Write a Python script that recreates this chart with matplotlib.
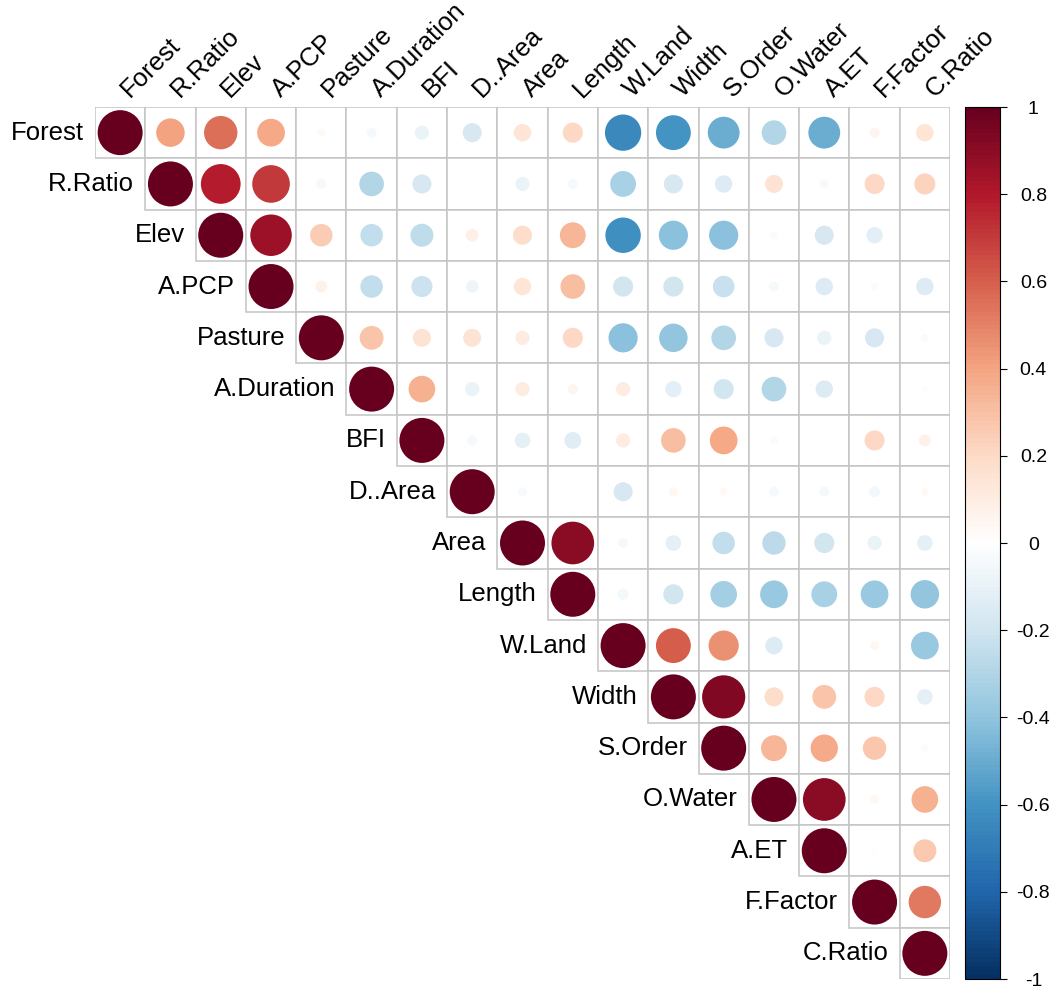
import numpy as np
import matplotlib
matplotlib.use("Agg")
import matplotlib.pyplot as plt
from matplotlib.colors import LinearSegmentedColormap, Normalize
from matplotlib.patches import Rectangle
from matplotlib.cm import ScalarMappable

plt.rcParams["font.family"] = ["Liberation Sans", "DejaVu Sans"]

labels = ["Forest", "R.Ratio", "Elev", "A.PCP", "Pasture", "A.Duration", "BFI",
          "D..Area", "Area", "Length", "W.Land", "Width", "S.Order", "O.Water",
          "A.ET", "F.Factor", "C.Ratio"]

# upper triangle of the correlation matrix, each row starts on the diagonal
forest = [1, 0.40, 0.55, 0.38, 0.03, -0.05, -0.10, -0.18, 0.15, 0.20, -0.65, -0.60, -0.50, -0.30, -0.50, 0.05, 0.15]
r_ratio = [1, 0.78, 0.70, -0.05, -0.30, -0.18, -0.01, -0.10, -0.05, -0.33, -0.18, -0.15, 0.16, -0.04, 0.20, 0.22]
elev = [1, 0.85, 0.25, -0.25, -0.26, 0.08, 0.18, 0.33, -0.62, -0.42, -0.42, -0.03, -0.18, -0.13, 0.005]
a_pcp = [1, 0.07, -0.25, -0.22, -0.08, 0.15, 0.30, -0.20, -0.20, -0.23, -0.05, -0.15, -0.03, -0.15]
pasture = [1, 0.28, 0.16, 0.16, 0.10, 0.20, -0.42, -0.40, -0.30, -0.18, -0.10, -0.18, 0.03]
a_duration = [1, 0.35, -0.10, 0.10, 0.05, 0.10, -0.13, -0.20, -0.30, -0.15, -0.01, -0.02]
bfi = [1, -0.05, -0.12, -0.14, 0.10, 0.30, 0.38, -0.03, -0.01, 0.20, 0.07]
d_area = [1, -0.04, -0.01, -0.18, 0.04, 0.03, -0.05, -0.05, -0.06, 0.03]
area = [1, 0.90, -0.05, -0.12, -0.25, -0.27, -0.20, -0.10, -0.12]
length = [1, -0.06, -0.20, -0.35, -0.38, -0.33, -0.38, -0.40]
w_land = [1, 0.60, 0.45, -0.15, -0.01, 0.04, -0.38]
width = [1, 0.92, 0.18, 0.28, 0.20, -0.12]
s_order = [1, 0.33, 0.37, 0.27, -0.03]
o_water = [1, 0.90, 0.04, 0.35]
a_et = [1, 0.01, 0.26]
f_factor = [1, 0.52]
c_ratio = [1]

rows = [forest, r_ratio, elev, a_pcp, pasture, a_duration, bfi, d_area, area,
        length, w_land, width, s_order, o_water, a_et, f_factor, c_ratio]
n = len(labels)

# RdBu ramp as used by corrplot
cmap = LinearSegmentedColormap.from_list(
    "rdbu", ["#053061", "#2166AC", "#4393C3", "#92C5DE", "#D1E5F0", "#FFFFFF",
             "#FDDBC7", "#F4A582", "#D6604D", "#B2182B", "#67001F"], N=200)
norm = Normalize(-1, 1)

W, H = 1058, 994
fig = plt.figure(figsize=(W / 100, H / 100), dpi=100)
ax = fig.add_axes([95 / W, 1 - 979 / H, 855 / W, 872 / H])
ax.set_xlim(0, n)
ax.set_ylim(n, 0)
ax.axis("off")

xs, ys, vals = [], [], []
for i, row in enumerate(rows):
    for k, v in enumerate(row):
        j = i + k
        ax.add_patch(Rectangle((j, i), 1, 1, facecolor="white",
                               edgecolor="#c4c4c4", linewidth=1.1, zorder=1))
        xs.append(j + 0.5)
        ys.append(i + 0.5)
        vals.append(v)
vals = np.array(vals)

full_d = 45 * 0.72  # diameter of a |r| = 1 circle, in points
ax.scatter(xs, ys, s=full_d ** 2 * np.abs(vals), c=vals, cmap=cmap, norm=norm,
           linewidths=0, zorder=2)

for i, lab in enumerate(labels):
    ax.text(i - 0.22, i + 0.5, lab, ha="right", va="center", fontsize=18.5,
            color="black")
    ax.text(i + 0.76, -0.1, lab, ha="left", va="bottom", rotation=45,
            rotation_mode="anchor", fontsize=18.5, color="black", clip_on=False)

cax = fig.add_axes([965 / W, 1 - 979 / H, 35 / W, 872 / H])
cb = fig.colorbar(ScalarMappable(norm=norm, cmap=cmap), cax=cax)
cb.outline.set_linewidth(0.8)
ticks = np.linspace(-1, 1, 11)
cb.set_ticks(ticks)
cb.set_ticklabels(["-1", "-0.8", "-0.6", "-0.4", "-0.2", "0", "0.2", "0.4", "0.6", "0.8", "1"])
cax.tick_params(axis="y", length=5, width=0.8, pad=19, labelsize=14)
for t in cax.get_yticklabels():
    t.set_horizontalalignment("center")

fig.savefig("out.png", dpi=100)
